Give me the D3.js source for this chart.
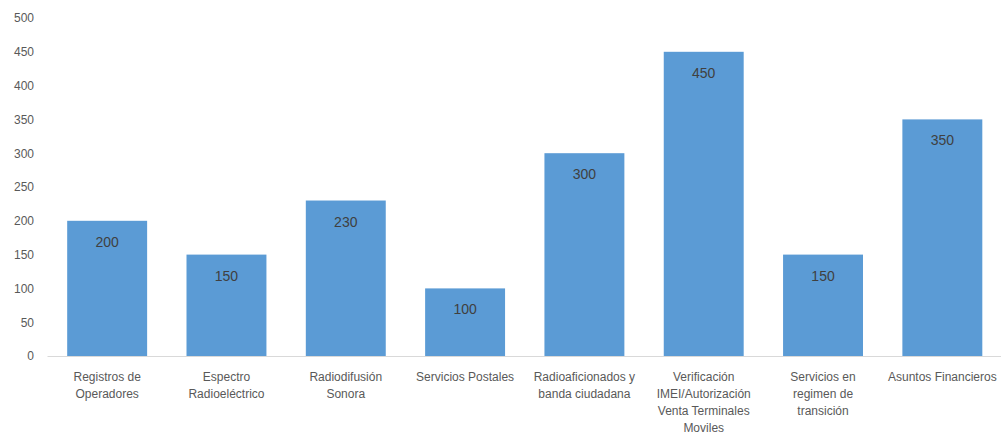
<!DOCTYPE html>
<html><head><meta charset="utf-8">
<script src="https://cdn.jsdelivr.net/npm/d3@7"></script>
<style>body{margin:0;background:#fff}svg{display:block}</style>
</head><body><svg id="c" width="1001" height="435"></svg>
<script>
const categories = ["Registros de\nOperadores","Espectro\nRadioeléctrico","Radiodifusión\nSonora","Servicios Postales","Radioaficionados y\nbanda ciudadana","Verificación\nIMEI/Autorización\nVenta Terminales\nMoviles","Servicios en\nregimen de\ntransición","Asuntos Financieros"];
const values = [200,150,230,100,300,450,150,350];
const yTicks = [0,50,100,150,200,250,300,350,400,450,500];

const svg = d3.select("#c");
const font = "'Liberation Sans', Arial, sans-serif";
const x = d3.scaleBand().domain(categories).range([47.5,1002]).paddingInner(0.33).paddingOuter(0.165);
const y = d3.scaleLinear().domain([0,500]).range([356,18]);

// y axis labels
const ya = svg.append("g").attr("transform","translate(34,0)")
  .call(d3.axisLeft(y).tickValues(yTicks).tickSize(0).tickPadding(0));
ya.select(".domain").remove();
ya.selectAll("text").attr("font-family",font).attr("font-size",12).attr("fill","#595959");

// bars
svg.append("g").selectAll("rect").data(values).join("rect")
  .attr("x",(d,i)=>x(categories[i])).attr("width",x.bandwidth())
  .attr("y",d=>y(d)).attr("height",d=>y(0)-y(d)).attr("fill","#5B9BD5");

// x axis
const xa = svg.append("g").attr("transform",`translate(0,${y(0)})`)
  .call(d3.axisBottom(x).tickSize(0).tickFormat(""));
xa.select(".domain").attr("stroke","#d9d9d9").attr("d","M47.5,0.5H1001");
xa.selectAll(".tick").each(function(d){
  const lines = d.split("\n");
  const t = d3.select(this).append("text").attr("font-family",font).attr("font-size",12)
    .attr("fill","#595959").attr("text-anchor","middle");
  lines.forEach((l,i)=>t.append("tspan").attr("x",0).attr("y",25+i*17).text(l));
});

// value labels
svg.append("g").selectAll("text").data(values).join("text")
  .attr("x",(d,i)=>x(categories[i])+x.bandwidth()/2).attr("y",d=>y(d)+26)
  .attr("text-anchor","middle").attr("font-family",font).attr("font-size",14)
  .attr("fill","#404040").text(d=>d);
</script></body></html>
